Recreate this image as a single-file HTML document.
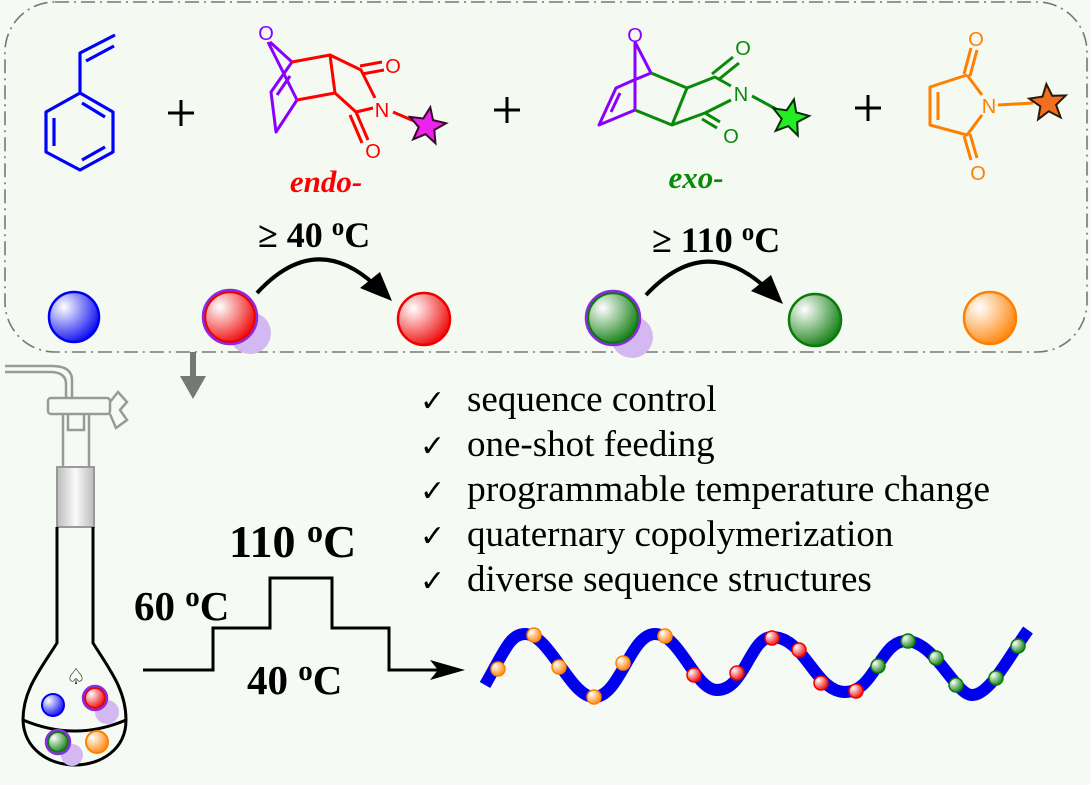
<!DOCTYPE html>
<html><head><meta charset="utf-8"><style>
html,body{margin:0;padding:0;background:#f6faf4;}
svg{display:block;}
text{font-family:"Liberation Serif",serif;}
.m{font-family:"Liberation Sans",sans-serif;font-size:20px;}
</style></head><body>
<svg width="1091" height="785" viewBox="0 0 1091 785" xmlns="http://www.w3.org/2000/svg">
<defs>
<radialGradient id="gb" cx="0.3" cy="0.3" r="0.8"><stop offset="0" stop-color="#fff"/><stop offset="1" stop-color="#0000ee"/></radialGradient>
<radialGradient id="gr" cx="0.3" cy="0.3" r="0.8"><stop offset="0" stop-color="#fff"/><stop offset="1" stop-color="#ee0000"/></radialGradient>
<radialGradient id="gg" cx="0.3" cy="0.3" r="0.8"><stop offset="0" stop-color="#fff"/><stop offset="1" stop-color="#0a7a0a"/></radialGradient>
<radialGradient id="go" cx="0.3" cy="0.3" r="0.8"><stop offset="0" stop-color="#fff"/><stop offset="1" stop-color="#ff8000"/></radialGradient>
<linearGradient id="gj" x1="0" x2="1"><stop offset="0" stop-color="#bbb"/><stop offset="0.5" stop-color="#fafafa"/><stop offset="1" stop-color="#bbb"/></linearGradient>
<polygon id="star" points="0,-19 4.9,-6.8 18.3,-6 7.9,2.6 11.3,15.5 0,8.3 -11.3,15.5 -7.9,2.6 -18.3,-6 -4.9,-6.8"/>
</defs>

<rect x="5" y="2" width="1082" height="350" rx="50" fill="#f4f9f2" stroke="#777" stroke-width="1.6" stroke-dasharray="14,5,2,5"/>

<!-- styrene -->
<g stroke="#0000ff" stroke-width="3.2" fill="none" stroke-linejoin="round">
<path d="M80,93 L113,112 L113,152 L80,170 L46,152 L46,112 Z"/>
<path d="M80,93 L80,53 L115,35"/>
<path d="M86,61 L114,46"/>
<path d="M82,103 L105,117 M105,147 L82,160 M54,118 L54,146"/>
</g>

<g stroke="#000" stroke-width="3">
<path d="M168,113 H194 M181,100 V126"/>
<path d="M494,110 H520 M507,97 V123"/>
<path d="M855,108 H881 M868,95 V121"/>
</g>

<!-- endo -->
<g fill="none" stroke-width="3" stroke-linejoin="round">
<path stroke="#8a00ff" d="M270,42 L292,62 M268,42 L297,100 M292,62 L271,92 L276,132 L297,100 M277,95 L290,76"/>
<path stroke="#ff0000" d="M292,62 L330,55 L335,93 L297,100 M330,55 L361,70 L375,98 M335,93 L356,112 L373,108 M360,66 L382,62 M362,74 L384,70 M356,112 L368,140 M350,115 L362,143 M393,112 L414,121"/>
</g>
<text x="266" y="40" text-anchor="middle" class="m" fill="#8a00ff">O</text>
<text x="393" y="73" text-anchor="middle" class="m" fill="#ff0000">O</text>
<text x="382" y="117" text-anchor="middle" class="m" fill="#ff0000">N</text>
<text x="373" y="158" text-anchor="middle" class="m" fill="#ff0000">O</text>
<use href="#star" x="427" y="126" fill="#ee22ee" stroke="#3a0a2a" stroke-width="2" transform="rotate(10 427 126)"/>
<text x="326" y="192" text-anchor="middle" font-size="31" font-weight="bold" font-style="italic" fill="#ff0000">endo-</text>

<!-- exo -->
<g fill="none" stroke-width="3" stroke-linejoin="round">
<path stroke="#8a00ff" d="M635,42 L651,73 M635,42 L635,110 M651,73 L634,80 M635,110 L599,125 L616,88 L634,80 M611,112 L620,93"/>
<path stroke="#0a8a0a" d="M651,73 L687,88 L672,125 L635,110 M687,88 L715,77 L731,86 M672,125 L705,113 L731,100 M712,74 L733,57 M718,80 L739,63 M705,113 L720,122 M702,119 L717,128 M752,96 L776,109"/>
</g>
<text x="635" y="42" text-anchor="middle" class="m" fill="#8a00ff">O</text>
<text x="743" y="55" text-anchor="middle" class="m" fill="#0a8a0a">O</text>
<text x="741" y="101" text-anchor="middle" class="m" fill="#0a8a0a">N</text>
<text x="731" y="143" text-anchor="middle" class="m" fill="#0a8a0a">O</text>
<use href="#star" x="790" y="118" fill="#22ee22" stroke="#0a2a0a" stroke-width="2" transform="rotate(12 790 118)"/>
<text x="696" y="188" text-anchor="middle" font-size="31" font-weight="bold" font-style="italic" fill="#0a8a0a">exo-</text>

<!-- maleimide -->
<g fill="none" stroke="#ff8000" stroke-width="3" stroke-linejoin="round">
<path d="M967,75 L930,87 L930,125 L967,135 L982,115 M967,75 L982,95"/>
<path d="M938,92 L938,120"/>
<path d="M964,74 L971,48 M970,76 L977,50 M964,136 L971,160 M970,134 L977,158"/>
<path d="M998,105 L1033,103"/>
</g>
<text x="976" y="46" text-anchor="middle" class="m" fill="#ff8000">O</text>
<text x="989" y="113" text-anchor="middle" class="m" fill="#ff8000">N</text>
<text x="978" y="180" text-anchor="middle" class="m" fill="#ff8000">O</text>
<use href="#star" x="1048" y="103" fill="#f07020" stroke="#2a1a0a" stroke-width="2" transform="rotate(-5 1048 103)"/>

<!-- temperature arrows -->
<text x="258" y="247" font-size="36" font-weight="bold" fill="#000">≥ 40 <tspan font-size="25" dy="-12">o</tspan><tspan dy="12">C</tspan></text>
<text x="652" y="252" font-size="36" font-weight="bold" fill="#000">≥ 110 <tspan font-size="25" dy="-12">o</tspan><tspan dy="12">C</tspan></text>
<path d="M257,293 Q315,230 375,285" fill="none" stroke="#000" stroke-width="4"/>
<polygon points="392,301 360,288 380,272" fill="#000"/>
<path d="M646,295 Q705,232 766,288" fill="none" stroke="#000" stroke-width="4"/>
<polygon points="783,304 751,291 771,275" fill="#000"/>

<!-- spheres -->
<circle cx="74" cy="317" r="25" fill="url(#gb)" stroke="#0000ee" stroke-width="2.5"/>
<circle cx="250" cy="333" r="21" fill="#d4b8f2"/>
<circle cx="230" cy="317" r="25" fill="url(#gr)" stroke="#ee0000" stroke-width="2.5"/>
<circle cx="230" cy="317" r="27" fill="none" stroke="#8a2be2" stroke-width="2.5"/>
<circle cx="424" cy="319" r="26" fill="url(#gr)" stroke="#ee0000" stroke-width="2.5"/>
<circle cx="632" cy="337" r="21" fill="#d4b8f2"/>
<circle cx="613" cy="318" r="25" fill="url(#gg)" stroke="#0a7a0a" stroke-width="2.5"/>
<circle cx="613" cy="318" r="27" fill="none" stroke="#8a2be2" stroke-width="2.5"/>
<circle cx="815" cy="320" r="26" fill="url(#gg)" stroke="#0a7a0a" stroke-width="2.5"/>
<circle cx="990" cy="318" r="26" fill="url(#go)" stroke="#ff8000" stroke-width="2.5"/>

<path d="M193,352 V380" stroke="#777" stroke-width="6"/>
<polygon points="180,376 206,376 193,399" fill="#777"/>

<!-- flask -->
<g fill="none" stroke="#999" stroke-width="2.5">
<path d="M5,366 H52 Q72,366 72,380 V398" />
<path d="M5,372 H50 Q66,372 66,384 V398"/>
<rect x="48" y="398" width="62" height="16" rx="3"/>
<path d="M110,402 L118,392 L127,402 L120,410 L127,420 L116,428 L110,414"/>
<path d="M63,414 V467 M89,414 V467 M68,414 L68,430 L84,430 L84,414"/>
</g>
<rect x="57" y="467" width="37" height="60" fill="url(#gj)" stroke="#999" stroke-width="2"/>
<g fill="none" stroke="#000" stroke-width="3">
<path d="M57,527 V643 C40,670 23,690 23,720 C24,750 50,765 75,765 C100,765 126,750 126,720 C126,690 110,670 93,643 V527"/>
<path d="M23,720 Q75,742 126,720"/>
</g>
<text x="76" y="684" text-anchor="middle" font-size="22" fill="#000">♤</text>
<circle cx="53" cy="705" r="11" fill="url(#gb)" stroke="#0000ee" stroke-width="2"/>
<circle cx="107" cy="712" r="12" fill="#d4b8f2"/>
<circle cx="95" cy="698" r="10" fill="url(#gr)" stroke="#ee0000" stroke-width="2"/>
<circle cx="95" cy="698" r="12" fill="none" stroke="#8a2be2" stroke-width="2.5"/>
<circle cx="72" cy="755" r="11" fill="#d4b8f2"/>
<circle cx="58" cy="742" r="10" fill="url(#gg)" stroke="#0a7a0a" stroke-width="2"/>
<circle cx="58" cy="742" r="12" fill="none" stroke="#8a2be2" stroke-width="2.5"/>
<circle cx="97" cy="742" r="11" fill="url(#go)" stroke="#ff8000" stroke-width="2"/>

<!-- step graph -->
<path d="M143,670 H213 V628 H270 V578 H332 V628 H389 V670 H450" fill="none" stroke="#000" stroke-width="3"/>
<polygon points="465,670 430,660 438,670 430,680" fill="#000"/>
<text x="229" y="557" font-size="46" font-weight="bold">110 <tspan font-size="32" dy="-15">o</tspan><tspan dy="15">C</tspan></text>
<text x="134" y="620" font-size="41" font-weight="bold">60 <tspan font-size="29" dy="-14">o</tspan><tspan dy="14">C</tspan></text>
<text x="247" y="694" font-size="41" font-weight="bold">40 <tspan font-size="29" dy="-14">o</tspan><tspan dy="14">C</tspan></text>

<!-- checklist -->
<g font-size="37" fill="#000">
<text x="420" y="411" font-size="30">✓</text><text x="467" y="411">sequence control</text>
<text x="420" y="456" font-size="30">✓</text><text x="467" y="456">one-shot feeding</text>
<text x="420" y="501" font-size="30">✓</text><text x="467" y="501" textLength="523" lengthAdjust="spacingAndGlyphs">programmable temperature change</text>
<text x="420" y="546" font-size="30">✓</text><text x="467" y="546">quaternary copolymerization</text>
<text x="420" y="591" font-size="30">✓</text><text x="467" y="591">diverse sequence structures</text>
</g>

<!-- polymer wave -->
<path d="M485,685 C505,650 510,634 525,634 C550,634 570,697 594,697 C620,697 630,634 655,634 C680,634 695,690 717,690 C745,690 750,637 772,637 C805,637 815,692 845,692 C875,692 880,641 906,641 C935,641 955,695 972,695 C990,695 1010,655 1028,630" fill="none" stroke="#0000ee" stroke-width="12"/>
<g stroke-width="1.5">
<g fill="url(#go)" stroke="#ff8000">
<circle cx="498" cy="669" r="7"/><circle cx="534" cy="635" r="7"/><circle cx="559" cy="667" r="7"/><circle cx="594" cy="697" r="7"/><circle cx="623" cy="663" r="7"/><circle cx="665" cy="636" r="7"/>
</g>
<g fill="url(#gr)" stroke="#ee0000">
<circle cx="694" cy="675" r="7"/><circle cx="737" cy="673" r="7"/><circle cx="772" cy="638" r="7"/><circle cx="799" cy="650" r="7"/><circle cx="821" cy="683" r="7"/><circle cx="856" cy="691" r="7"/>
</g>
<g fill="url(#gg)" stroke="#0a7a0a">
<circle cx="878" cy="666" r="7"/><circle cx="908" cy="641" r="7"/><circle cx="936" cy="658" r="7"/><circle cx="956" cy="685" r="7"/><circle cx="996" cy="678" r="7"/><circle cx="1018" cy="646" r="7"/>
</g>
</g>
</svg>
</body></html>
